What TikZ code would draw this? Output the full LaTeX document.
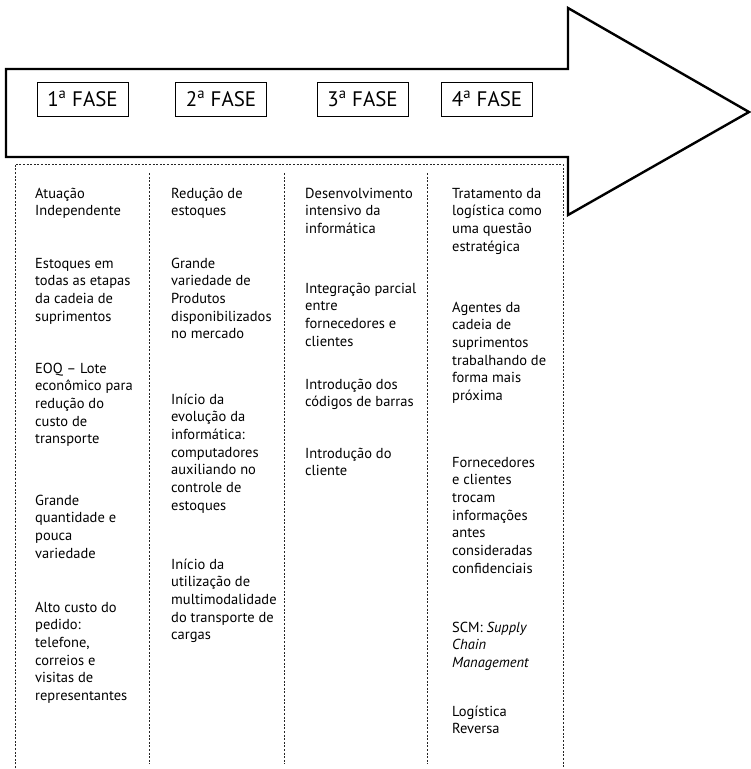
\documentclass[tikz,border=0pt]{standalone}
\usepackage{fontspec}
\setmainfont{PT Sans}
% multi-line cell text; the box baseline is that of the first line
\newcommand\celltext[1]{\parbox[t]{135pt}{\raggedright #1}}
\begin{document}
\begin{tikzpicture}[x=1pt,y=-1pt,
  arrowshape/.style={draw=black, line width=2.4pt, fill=white, line join=miter},
  fasebox/.style={draw=black, line width=1pt, minimum width=91pt, minimum height=34pt,
    inner sep=0pt, font=\fontsize{21}{25}\selectfont},
  dotline/.style={draw=black!85, line width=0.8pt, dash pattern=on 2pt off 1.6pt},
  item/.style={anchor=base west, inner sep=0pt, font=\fontsize{14.5}{17.7}\selectfont}]
\useasboundingbox (0,0) rectangle (751,769);

% big arrow
\draw[arrowshape] (6,69) -- (568,69) -- (568,8) -- (749,112) -- (568,215)
  -- (568,157) -- (6,157) -- cycle;

% phase labels
\node[fasebox] (f1) at (82.5,99) {1\textsuperscript{a} FASE};
\node[fasebox] (f2) at (221,99) {2\textsuperscript{a} FASE};
\node[fasebox] (f3) at (362.5,99) {3\textsuperscript{a} FASE};
\node[fasebox] (f4) at (487,99) {4\textsuperscript{a} FASE};

% dotted frame and column separators
\draw[dotline] (15,768) -- (15,164) -- (563,164) -- (563,768);
\foreach \x in {149,284,427} \draw[dotline] (\x,173) -- (\x,764);

% column 1
\node[item] (a1) at (35,198) {\celltext{Atuação\\Independente}};
\node[item] (a2) at (35,268) {\celltext{Estoques em\\todas as etapas\\da cadeia de\\suprimentos}};
\node[item] (a3) at (35,373) {\celltext{EOQ – Lote\\econômico para\\redução do\\custo de\\transporte}};
\node[item] (a4) at (35,505) {\celltext{Grande\\quantidade e\\pouca\\variedade}};
\node[item] (a5) at (35,612) {\celltext{Alto custo do\\pedido:\\telefone,\\correios e\\visitas de\\representantes}};

% column 2
\node[item] (b1) at (171,198) {\celltext{Redução de\\estoques}};
\node[item] (b2) at (171,268) {\celltext{Grande\\variedade de\\Produtos\\disponibilizados\\no mercado}};
\node[item] (b3) at (171,404) {\celltext{Início da\\evolução da\\informática:\\computadores\\auxiliando no\\controle de\\estoques}};
\node[item] (b4) at (171,569) {\celltext{Início da\\utilização de\\multimodalidade\\do transporte de\\cargas}};

% column 3
\node[item] (c1) at (305,198) {\celltext{Desenvolvimento\\intensivo da\\informática}};
\node[item] (c2) at (305,293) {\celltext{Integração parcial\\entre\\fornecedores e\\clientes}};
\node[item] (c3) at (305,389) {\celltext{Introdução dos\\códigos de barras}};
\node[item] (c4) at (305,458) {\celltext{Introdução do\\cliente}};

% column 4
\node[item] (d1) at (452,198) {\celltext{Tratamento da\\logística como\\uma questão\\estratégica}};
\node[item] (d2) at (452,312) {\celltext{Agentes da\\cadeia de\\suprimentos\\trabalhando de\\forma mais\\próxima}};
\node[item] (d3) at (452,467) {\celltext{Fornecedores\\e clientes\\trocam\\informações\\antes\\consideradas\\confidenciais}};
\node[item] (d4) at (452,632) {\celltext{SCM: \textit{Supply\\Chain\\Management}}};
\node[item] (d5) at (452,716) {\celltext{Logística\\Reversa}};
\end{tikzpicture}
\end{document}
